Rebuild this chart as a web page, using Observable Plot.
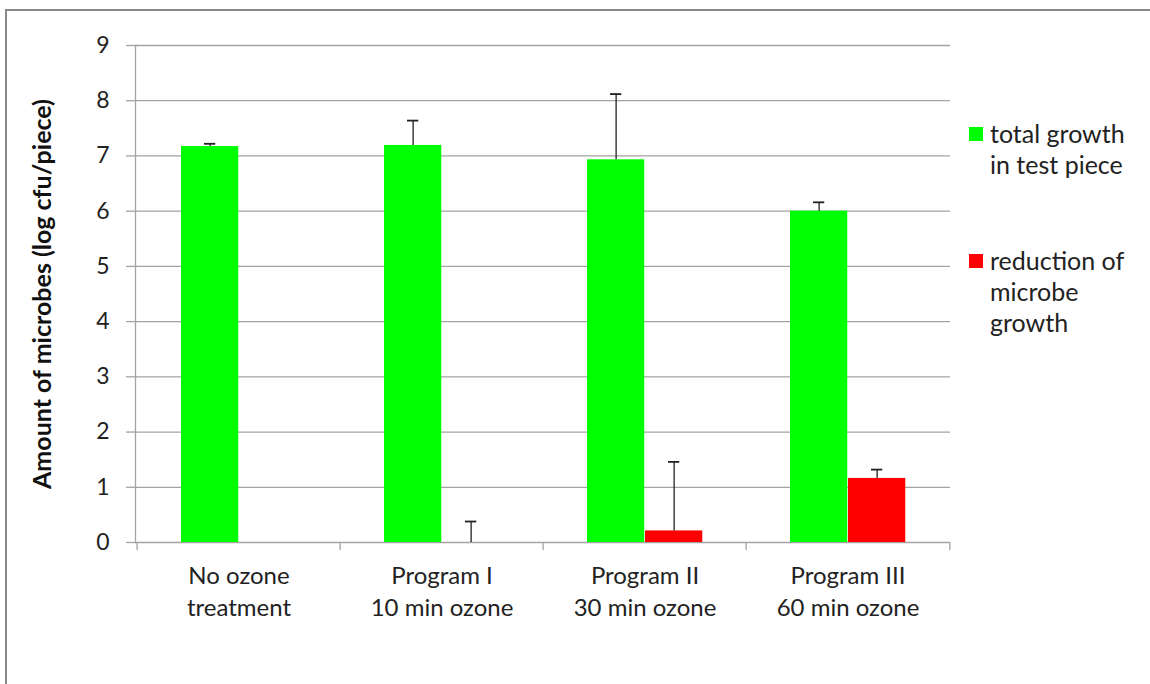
<!DOCTYPE html>
<html>
<head>
<meta charset="utf-8">
<script src="https://cdn.jsdelivr.net/npm/d3@7"></script>
<script src="https://cdn.jsdelivr.net/npm/@observablehq/plot@0.6"></script>
<style>
  html, body { margin: 0; padding: 0; background: #fff; }
  #wrap { position: relative; width: 1150px; height: 684px; overflow: hidden; font-family: Lato, "Open Sans", sans-serif; }
  #border { position: absolute; left: 5px; top: 9px; width: 1300px; height: 800px; border: 2px solid #8a8a8a; pointer-events: none; }
  #legend { position: absolute; left: 969px; top: 0; color: #222; font-size: 25px; line-height: 31px; }
  .item { position: absolute; left: 0; white-space: nowrap; }
  .sw { position: absolute; left: 0; top: 9px; width: 14px; height: 14px; }
  .lab { position: absolute; left: 21px; top: 0; }
</style>
</head>
<body>
<div id="wrap">
  <div id="chart"></div>
  <div id="legend"></div>
  <div id="border"></div>
</div>
<script>
const categories = ["No ozone\ntreatment", "Program I\n10 min ozone", "Program II\n30 min ozone", "Program III\n60 min ozone"];
const totalGrowth = [7.17, 7.19, 6.93, 6.00];
const totalGrowthErrTop = [7.22, 7.64, 8.12, 6.16];
const reduction = [null, 0, 0.21, 1.16];
const reductionErrTop = [null, 0.38, 1.46, 1.32];
const seriesNames = ["total growth\nin test piece", "reduction of\nmicrobe\ngrowth"];
const seriesColors = ["#00ff00", "#ff0000"];
const yLabel = "Amount of microbes (log cfu/piece)";
const yTicks = [0, 1, 2, 3, 4, 5, 6, 7, 8, 9];

const green = categories.map((c, i) => ({cat: c, v: totalGrowth[i], hi: totalGrowthErrTop[i]}));
const red = categories.map((c, i) => ({cat: c, v: reduction[i], hi: reductionErrTop[i]})).filter(d => d.v != null);

const W = 1150, H = 684, ML = 135, MR = 200, MT = 45, MB = 142;
const step = (W - ML - MR) / categories.length;
const padL = 44, barW = 58, capW = 12;
const gInL = padL, gInR = step - padL - barW;
const rInL = padL + barW, rInR = step - padL - 2 * barW;
const gDx = padL + barW / 2 - step / 2, rDx = padL + barW * 1.5 - step / 2;
const grid = "#a3a3a3", ink = "#222";

const chart = Plot.plot({
  width: W, height: H,
  marginLeft: ML, marginRight: MR, marginTop: MT, marginBottom: MB,
  style: {fontFamily: "Lato, 'Open Sans', sans-serif", color: ink, background: "transparent"},
  x: {domain: categories, padding: 0, axis: null},
  y: {domain: [0, 9], axis: null},
  marks: [
    Plot.gridY(yTicks, {stroke: grid, strokeOpacity: 1, strokeWidth: 1.3}),
    Plot.axisY(yTicks, {tickSize: 9, tickPadding: 17, tickFormat: d3.format("d"), stroke: grid, strokeWidth: 1.3, fontSize: 23, fill: ink, label: null}),
    Plot.frame({anchor: "left", stroke: grid, strokeWidth: 1.3}),
    Plot.ruleX(categories, {x: d => d, dx: -step / 2, y1: () => 0, insetBottom: -8, stroke: grid, strokeWidth: 1.3}),
    Plot.ruleX(categories.slice(-1), {x: d => d, dx: step / 2, y1: () => 0, insetBottom: -8, stroke: grid, strokeWidth: 1.3}),
    Plot.barY(green, {x: "cat", y: "v", fill: seriesColors[0], insetLeft: gInL, insetRight: gInR}),
    Plot.barY(red, {x: "cat", y: "v", fill: seriesColors[1], insetLeft: rInL, insetRight: rInR}),
    Plot.ruleX(green, {x: "cat", y1: "v", y2: "hi", dx: gDx, stroke: ink, strokeWidth: 1.3}),
    Plot.tickY(green, {x: "cat", y: "hi", insetLeft: gInL + (barW - capW) / 2, insetRight: gInR + (barW - capW) / 2, stroke: ink, strokeWidth: 1.8}),
    Plot.ruleX(red, {x: "cat", y1: "v", y2: "hi", dx: rDx, stroke: ink, strokeWidth: 1.3}),
    Plot.tickY(red, {x: "cat", y: "hi", insetLeft: rInL + (barW - capW) / 2, insetRight: rInR + (barW - capW) / 2, stroke: ink, strokeWidth: 1.8}),
    Plot.text(categories, {x: d => d, text: d => d, frameAnchor: "bottom", lineAnchor: "top", dy: 19, lineHeight: 1.33, fontSize: 24, fill: ink}),
    Plot.text([yLabel], {text: d => d, frameAnchor: "left", textAnchor: "middle", rotate: -90, dx: -93, fontSize: 25, fontWeight: "bold", fill: "#111"})
  ]
});
document.getElementById("chart").appendChild(chart);

const legend = document.getElementById("legend");
const tops = [118, 245];
seriesNames.forEach((name, i) => {
  const item = document.createElement("div");
  item.className = "item";
  item.style.top = tops[i] + "px";
  const sw = document.createElement("div");
  sw.className = "sw";
  sw.style.background = seriesColors[i];
  const lab = document.createElement("div");
  lab.className = "lab";
  lab.innerHTML = name.split("\n").join("<br>");
  item.appendChild(sw);
  item.appendChild(lab);
  legend.appendChild(item);
});
</script>
</body>
</html>
